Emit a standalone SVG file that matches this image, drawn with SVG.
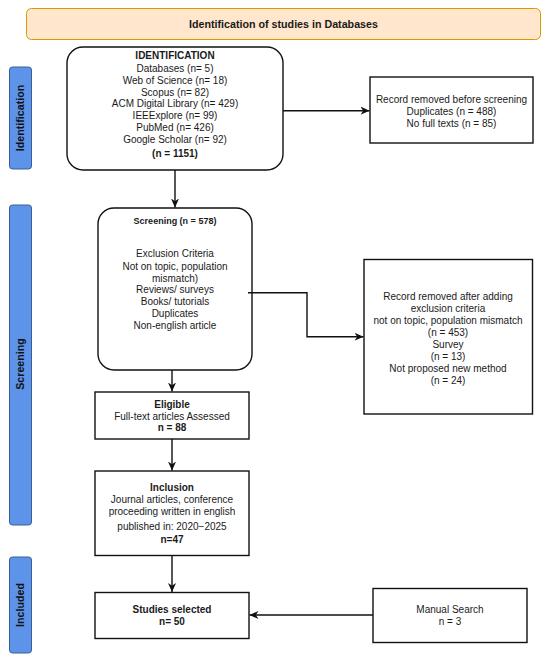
<svg xmlns="http://www.w3.org/2000/svg" width="550" height="660" viewBox="0 0 550 660">
<style>
text{font-family:"Liberation Sans",Arial,sans-serif;fill:#1a1a1a;text-anchor:middle}
.t{font-size:10px}
.b{font-size:10px;font-weight:bold}
.h{font-size:10.7px;font-weight:bold}
.s{font-size:9px;font-weight:bold}
.box{fill:#fff;stroke:#111;stroke-width:1.4}
.tab{fill:#5d93e8;stroke:#3b5f93;stroke-width:1}
.tabt{font-size:10.7px;font-weight:bold;fill:#111}
.c{fill:none;stroke:#111;stroke-width:1.4}
</style>
<defs>
<marker id="arr" viewBox="0 0 10 10" refX="10" refY="5" markerWidth="9" markerHeight="9" markerUnits="userSpaceOnUse" orient="auto">
<path d="M0,0.5 L10,5 L0,9.5 L3,5 z" fill="#111"/>
</marker>
</defs>
<rect width="550" height="660" fill="#fff"/>

<g id="header">
<rect x="26.5" y="8.5" width="514" height="31" rx="5" fill="#ffe6cc" stroke="#d79b00" stroke-width="1"/>
<text class="h" x="283.5" y="27.8">Identification of studies in Databases</text>
</g>

<g id="tab-identification">
<rect class="tab" x="9.5" y="67" width="22" height="102" rx="3"/>
<text class="tabt" transform="translate(20,118) rotate(-90)" y="3.8">Identification</text>
</g>
<g id="tab-screening">
<rect class="tab" x="9.5" y="205" width="22" height="320" rx="3"/>
<text class="tabt" transform="translate(20,364) rotate(-90)" y="3.8">Screening</text>
</g>
<g id="tab-included">
<rect class="tab" x="9.5" y="557" width="22" height="96" rx="3"/>
<text class="tabt" transform="translate(20,605) rotate(-90)" y="3.8">Included</text>
</g>

<g id="identification">
<rect class="box" x="67" y="47" width="216" height="123" rx="16"/>
<text class="b" x="175" y="59">IDENTIFICATION</text>
<text class="t" x="175" y="72">Databases (n= 5)</text>
<text class="t" x="175" y="83.8">Web of Science (n= 18)</text>
<text class="t" x="175" y="95.6">Scopus (n= 82)</text>
<text class="t" x="175" y="107.4">ACM Digital Library (n= 429)</text>
<text class="t" x="175" y="119.2">IEEExplore (n= 99)</text>
<text class="t" x="175" y="131">PubMed (n= 426)</text>
<text class="t" x="175" y="142.8">Google Scholar (n= 92)</text>
<text class="b" x="175" y="156.5">(n = 1151)</text>
</g>

<g id="removed-before">
<rect class="box" x="370" y="77" width="163" height="66"/>
<text class="t" x="451.5" y="102.5">Record removed before screening</text>
<text class="t" x="451.5" y="114.5">Duplicates (n = 488)</text>
<text class="t" x="451.5" y="126.5">No full texts (n = 85)</text>
</g>

<g id="screening">
<rect class="box" x="98" y="208" width="154" height="162" rx="16"/>
<text class="s" x="175" y="223.5">Screening (n = 578)</text>
<text class="t" x="175" y="257">Exclusion Criteria</text>
<text class="t" x="175" y="269.5">Not on topic, population</text>
<text class="t" x="175" y="281.5">mismatch)</text>
<text class="t" x="175" y="293">Reviews/ surveys</text>
<text class="t" x="175" y="305">Books/ tutorials</text>
<text class="t" x="175" y="317">Duplicates</text>
<text class="t" x="175" y="328.5">Non-english article</text>
</g>

<g id="removed-after">
<rect class="box" x="364" y="259.5" width="168.5" height="154.5"/>
<text class="t" x="448" y="299.5">Record removed after adding</text>
<text class="t" x="448" y="311.5">exclusion criteria</text>
<text class="t" x="448" y="323.5">not on topic, population mismatch</text>
<text class="t" x="448" y="335.5">(n = 453)</text>
<text class="t" x="448" y="347.5">Survey</text>
<text class="t" x="448" y="359.5">(n = 13)</text>
<text class="t" x="448" y="371.5">Not proposed new method</text>
<text class="t" x="448" y="383.5">(n = 24)</text>
</g>

<g id="eligible">
<rect class="box" x="95" y="392" width="154" height="47"/>
<text class="b" x="172" y="407.5">Eligible</text>
<text class="t" x="172" y="419.5">Full-text articles Assessed</text>
<text class="b" x="172" y="431.2">n = 88</text>
</g>

<g id="inclusion">
<rect class="box" x="95" y="471" width="154" height="84.5"/>
<text class="b" x="172" y="491.2">Inclusion</text>
<text class="t" x="172" y="502.8">Journal articles, conference</text>
<text class="t" x="172" y="514.8">proceeding written in english</text>
<text class="t" x="172" y="529.5">published in: 2020−2025</text>
<text class="b" x="172" y="542.8">n=47</text>
</g>

<g id="studies-selected">
<rect class="box" x="95" y="592.5" width="154" height="46"/>
<text class="b" x="172" y="612.8">Studies selected</text>
<text class="b" x="172" y="624.8">n= 50</text>
</g>

<g id="manual-search">
<rect class="box" x="373" y="588.5" width="154" height="54"/>
<text class="t" x="450" y="612.8">Manual Search</text>
<text class="t" x="450" y="624.8">n = 3</text>
</g>

<g id="connectors">
<path class="c" d="M283,110.7 H369.5" marker-end="url(#arr)"/>
<path class="c" d="M175,170 V207.5" marker-end="url(#arr)"/>
<path class="c" d="M248,292.7 H307 V336.7 H363.5" marker-end="url(#arr)"/>
<path class="c" d="M172,370 V391.5" marker-end="url(#arr)"/>
<path class="c" d="M172,439 V470.5" marker-end="url(#arr)"/>
<path class="c" d="M172,555.5 V592" marker-end="url(#arr)"/>
<path class="c" d="M373,615 H249.5" marker-end="url(#arr)"/>
</g>
</svg>
